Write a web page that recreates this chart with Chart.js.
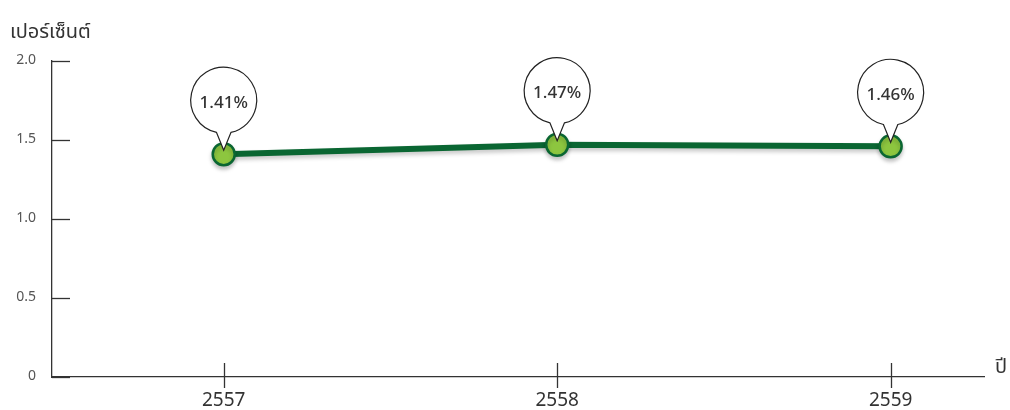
<!DOCTYPE html>
<html>
<head>
<meta charset="utf-8">
<script src="https://cdn.jsdelivr.net/npm/chart.js@4"></script>
<style>
  html, body { margin: 0; padding: 0; background: #fff; }
  #wrap { width: 1010px; height: 410px; }
</style>
</head>
<body>
<div id="wrap"><canvas id="chart"></canvas></div>
<script>
// data
const years = [2557, 2558, 2559];
const rates = [1.41, 1.47, 1.46];
const yTicks = [0, 0.5, 1.0, 1.5, 2.0];
const yTitle = 'เปอร์เซ็นต์';
const xTitle = 'ปี';

const FONT = '"Noto Sans Thai", "Noto Sans", "DejaVu Sans", sans-serif';
const DARK = '#0a6632';

// tick marks (inward on y, crossing on x), axis titles
const axisDeco = {
  id: 'axisDeco',
  afterDraw(chart) {
    const ctx = chart.ctx;
    const x = chart.scales.x, y = chart.scales.y;
    const a = chart.chartArea;
    ctx.save();
    ctx.strokeStyle = '#333';
    ctx.lineWidth = 1.3;
    yTicks.forEach(v => {
      const py = Math.round(y.getPixelForValue(v)) + 0.5;
      ctx.beginPath();
      ctx.moveTo(a.left, py);
      ctx.lineTo(a.left + 18, py);
      ctx.stroke();
    });
    years.forEach(v => {
      const px = Math.round(x.getPixelForValue(v)) + 0.5;
      ctx.beginPath();
      ctx.moveTo(px, a.bottom - 14);
      ctx.lineTo(px, a.bottom + 11);
      ctx.stroke();
    });
    ctx.fillStyle = '#333';
    ctx.font = '20px ' + FONT;
    ctx.textAlign = 'left';
    ctx.textBaseline = 'alphabetic';
    ctx.fillText(yTitle, 10, 38);
    ctx.textBaseline = 'middle';
    ctx.fillText(xTitle, 995, a.bottom - 8);
    ctx.restore();
  }
};

// soft shadow under the line and points
const shadow = {
  id: 'shadow',
  beforeDatasetsDraw(chart) {
    const ctx = chart.ctx;
    ctx.save();
    ctx.shadowColor = 'rgba(0,0,0,0.22)';
    ctx.shadowBlur = 4;
    ctx.shadowOffsetY = 3;
  },
  afterDatasetsDraw(chart) {
    chart.ctx.restore();
  }
};

// speech bubble labels
const bubbles = {
  id: 'bubbles',
  afterDatasetsDraw(chart) {
    const ctx = chart.ctx;
    const meta = chart.getDatasetMeta(0);
    const r = 33, d = 0.22;
    meta.data.forEach((pt, i) => {
      const px = pt.x, py = pt.y;
      const cx = px, cy = py - 54;
      ctx.save();
      ctx.beginPath();
      ctx.moveTo(px, py - 4);
      ctx.lineTo(cx - r * Math.sin(d), cy + r * Math.cos(d));
      ctx.arc(cx, cy, r, Math.PI / 2 + d, Math.PI / 2 - d + Math.PI * 2);
      ctx.closePath();
      ctx.fillStyle = '#fff';
      ctx.fill();
      ctx.strokeStyle = '#222';
      ctx.lineWidth = 1.2;
      ctx.stroke();
      ctx.fillStyle = '#333';
      ctx.font = '500 17px ' + FONT;
      ctx.textAlign = 'center';
      ctx.textBaseline = 'middle';
      ctx.fillText(rates[i].toFixed(2) + '%', cx, py - 50);
      ctx.restore();
    });
  }
};

new Chart(document.getElementById('chart'), {
  type: 'line',
  data: {
    datasets: [{
      data: years.map((yr, i) => ({ x: yr, y: rates[i] })),
      borderColor: DARK,
      borderWidth: 6,
      pointRadius: 11,
      pointHoverRadius: 11,
      pointBackgroundColor: '#8dc63f',
      pointBorderColor: DARK,
      pointBorderWidth: 2.5,
      tension: 0
    }]
  },
  options: {
    responsive: true,
    maintainAspectRatio: false,
    animation: false,
    events: [],
    layout: { padding: { top: 61, right: 26, left: 0, bottom: 0 } },
    plugins: {
      legend: { display: false },
      tooltip: { enabled: false }
    },
    scales: {
      x: {
        type: 'linear',
        min: 2556.485,
        max: 2559.28,
        afterBuildTicks: s => { s.ticks = years.map(v => ({ value: v })); },
        afterFit: s => { s.height = 33; },
        grid: { display: false, drawTicks: false },
        border: { display: true, color: '#333', width: 1.3 },
        ticks: {
          padding: 14,
          color: '#333',
          font: { family: FONT, size: 19 },
          callback: v => String(v),
          maxRotation: 0
        }
      },
      y: {
        min: 0,
        max: 2,
        afterBuildTicks: s => { s.ticks = yTicks.map(v => ({ value: v })); },
        afterFit: s => { s.width = 52; },
        grid: { display: false, drawTicks: false },
        border: { display: true, color: '#333', width: 1.3 },
        ticks: {
          padding: 16,
          color: '#555',
          font: { family: FONT, size: 14 },
          callback: v => v === 0 ? '0' : v.toFixed(1)
        }
      }
    }
  },
  plugins: [axisDeco, shadow, bubbles]
});
</script>
</body>
</html>
